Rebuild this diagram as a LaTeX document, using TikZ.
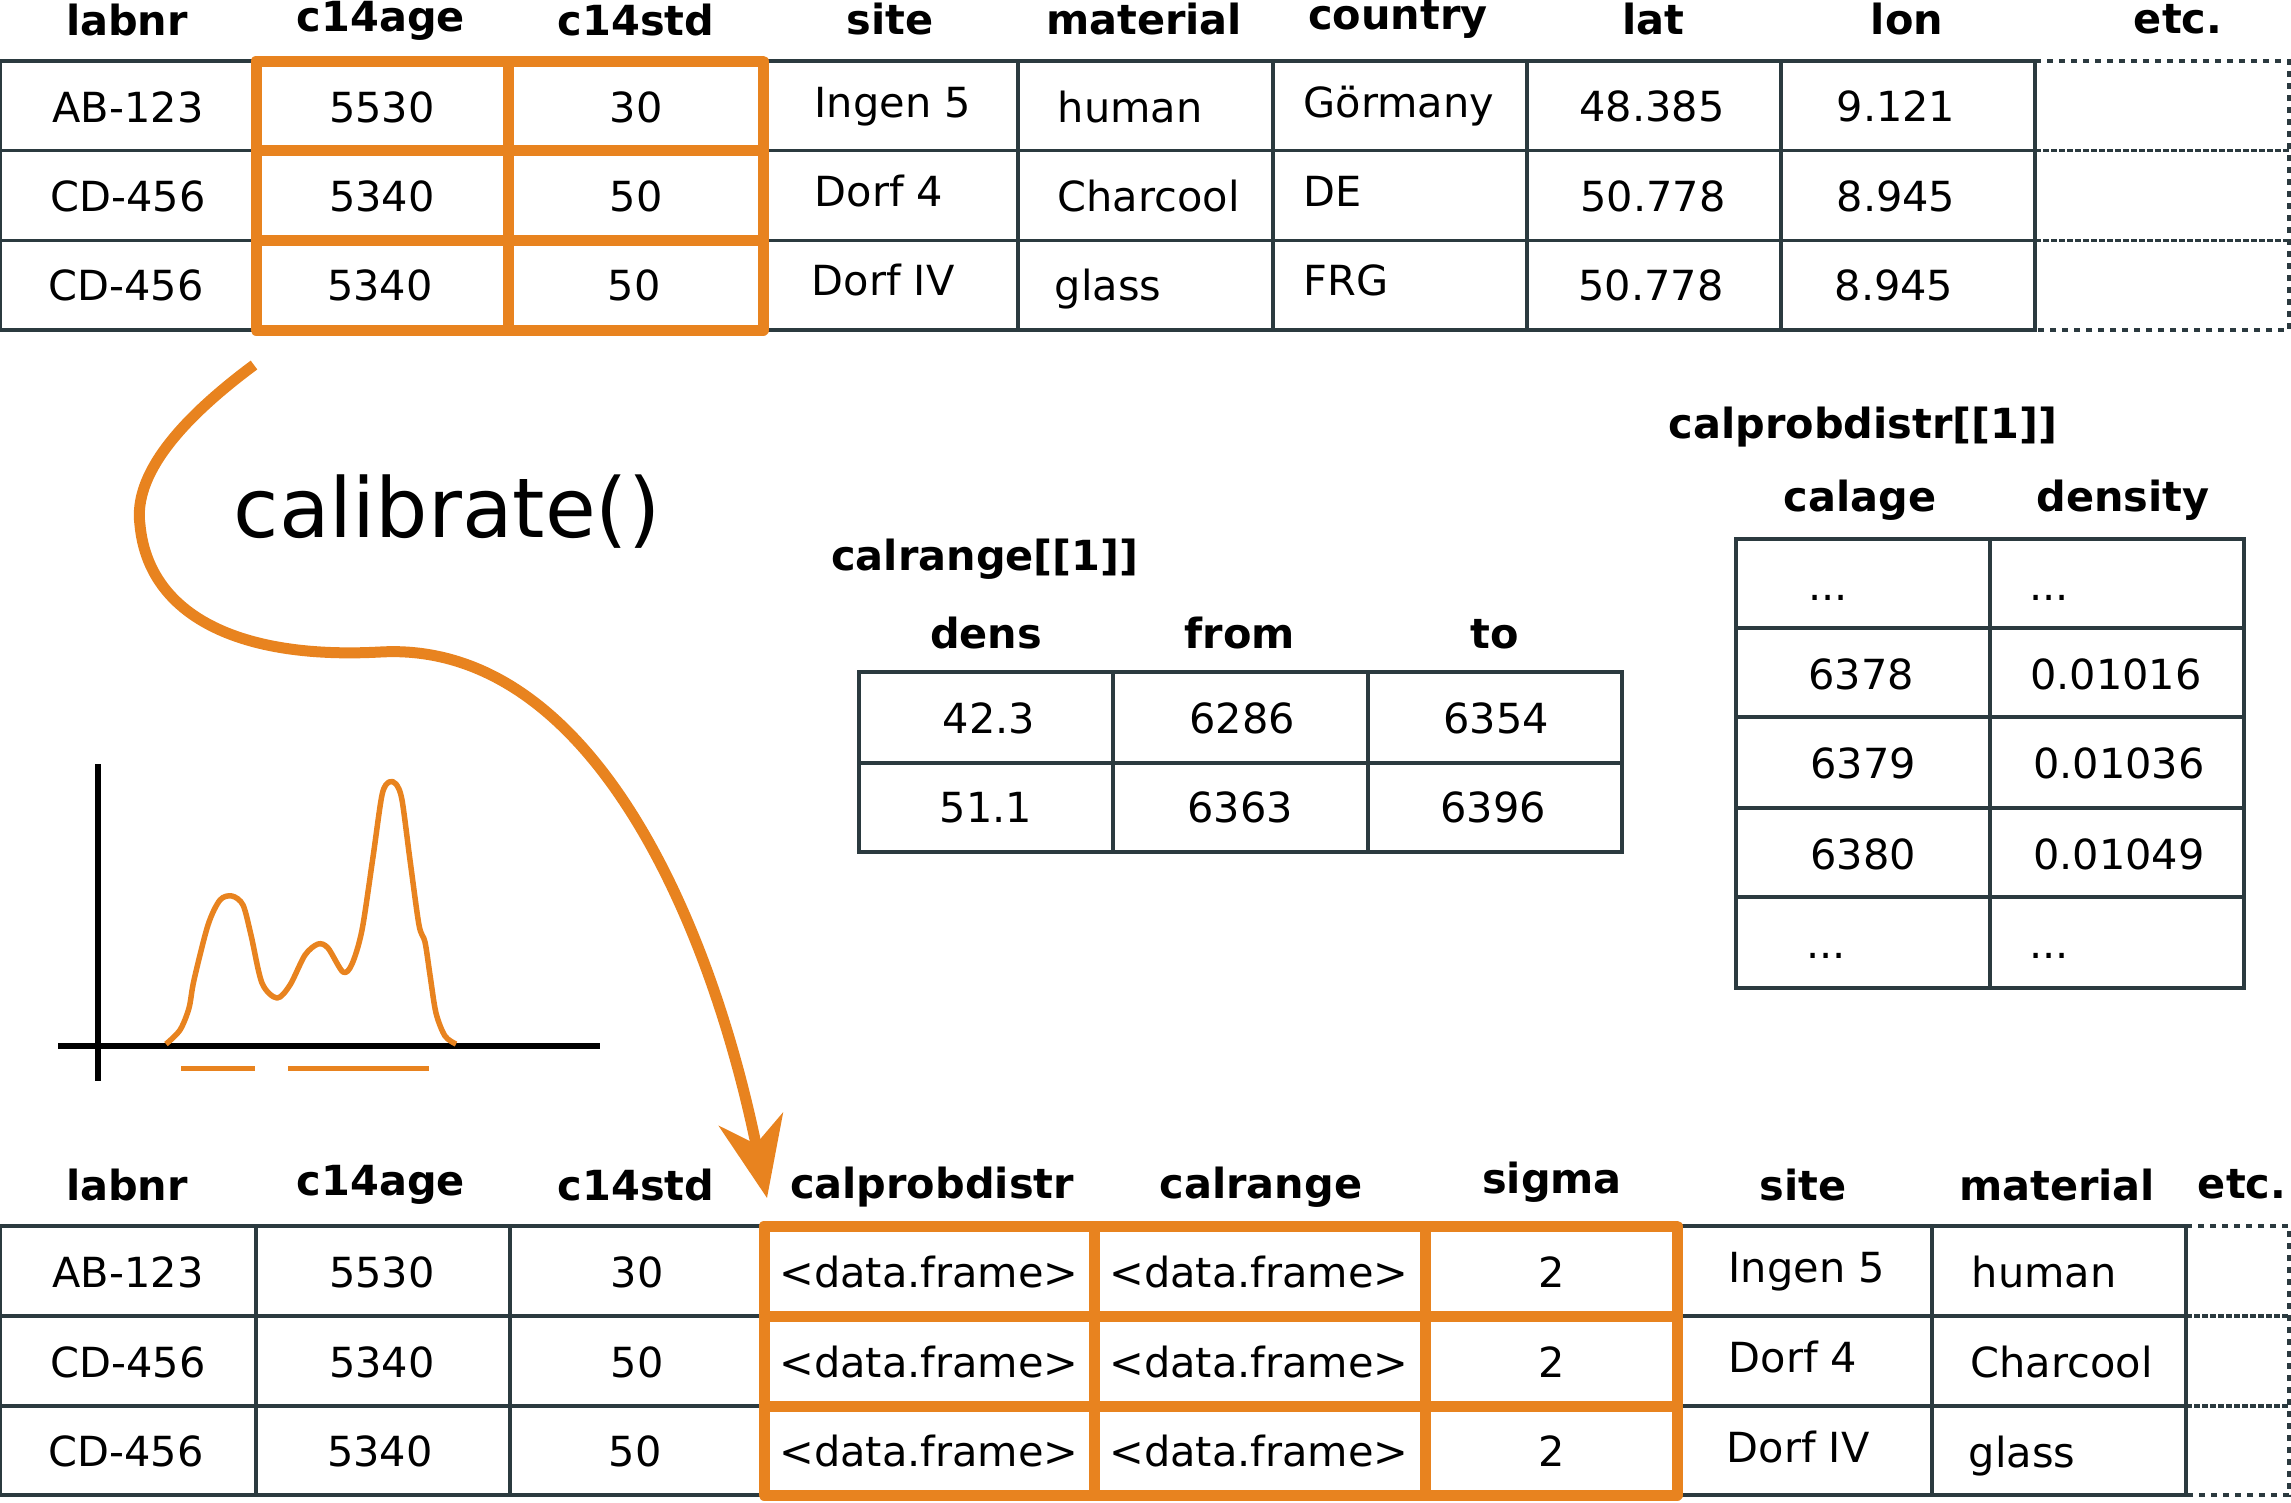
\documentclass[tikz,border=0pt]{standalone}
\usepackage{fontspec}
\setmainfont{DejaVu Sans}
\usepackage{tikz}
\usetikzlibrary{arrows.meta,positioning}

\definecolor{calorange}{HTML}{E8831F}
\definecolor{gridgray}{HTML}{2B3A3F}

\tikzset{
  cell/.style={font=\fontsize{11.8pt}{14pt}\selectfont, anchor=base, inner sep=0pt},
  lcell/.style={cell, anchor=base west},
  head/.style={cell, font=\fontsize{11.8pt}{14pt}\selectfont\bfseries},
  grid/.style={draw=gridgray, line width=0.32mm},
  hilite/.style={draw=calorange, line width=1.1mm, line join=round},
  etcdot/.style={draw=gridgray, line width=0.32mm, dash pattern=on 0.6mm off 0.6mm},
  etcdash/.style={draw=gridgray, line width=0.32mm, dash pattern=on 0.6mm off 0.2mm},
}
\def \more {...}

\begin{document}
\begin{tikzpicture}[x=0.1mm, y=-0.1mm]
\useasboundingbox (0,0) rectangle (2291,1502);

% input table
\def \ytop {61}
\def \ybot {330}
\draw[grid] (0,\ytop) rectangle (2035,\ybot);
\foreach \x in {256,508,763,1018,1273,1527,1781}
  \draw[grid] (\x,\ytop) -- (\x,\ybot);
\foreach \y in {150.7,240.3}
  \draw[grid] (0,\y) -- (2035,\y);
\draw[etcdot] (2035,\ytop) -- (2289,\ytop) -- (2289,\ybot) -- (2035,\ybot);
\foreach \y in {150.7,240.3}
  \draw[etcdash] (2035,\y) -- (2289,\y);

\foreach \txt/\x/\y [count=\i] in {labnr/127/35, c14age/381/31, c14std/636/35,
    site/890/34, material/1144/34, country/1398/29, lat/1653/34, lon/1907/34, etc./2178/33}
  \node[head] (inhead-\i) at (\x,\y) {\txt};

\foreach \txt/\x/\y [count=\i] in {AB-123/128/122, 5530/382/122, 30/636/122, 48.385/1652/121, 9.121/1896/121,
    CD-456/128/211, 5340/382/211, 50/636/211, 50.778/1653/211, 8.945/1896/211,
    CD-456/126/300, 5340/380/300, 50/634/300, 50.778/1651/300, 8.945/1894/300}
  \node[cell] (incell-\i) at (\x,\y) {\txt};

\foreach \txt/\x/\y [count=\i] in {Ingen 5/814/117, human/1057/122, Görmany/1303/117,
    Dorf 4/814/206, Charcool/1057/211, DE/1303/206,
    Dorf IV/811/295, glass/1054/300, FRG/1303/295}
  \node[lcell] (inleft-\i) at (\x,\y) {\txt};

\draw[hilite] (256,\ytop) rectangle (763,\ybot);
\draw[hilite] (508,\ytop) -- (508,\ybot);
\foreach \y in {150.7,240.3}
  \draw[hilite] (256,\y) -- (763,\y);

% output table
\def \ytop {1226}
\def \ybot {1495}
\draw[grid] (0,\ytop) rectangle (2186,\ybot);
\foreach \x in {256,510,764,1094,1425,1677,1932}
  \draw[grid] (\x,\ytop) -- (\x,\ybot);
\foreach \y in {1316,1406}
  \draw[grid] (0,\y) -- (2186,\y);
\draw[etcdot] (2186,\ytop) -- (2289,\ytop) -- (2289,\ybot) -- (2186,\ybot);
\foreach \y in {1316,1406}
  \draw[etcdash] (2186,\y) -- (2289,\y);

\foreach \txt/\x/\y [count=\i] in {labnr/127/1200, c14age/381/1195, c14std/636/1200,
    calprobdistr/932/1198, calrange/1261/1198, sigma/1552/1193, site/1803/1200, material/2057/1200, etc./2242/1198}
  \node[head] (outhead-\i) at (\x,\y) {\txt};

\foreach \txt/\x/\y [count=\i] in {AB-123/128/1287, 5530/382/1287, 30/637/1287,
    <data.frame>/929/1287, <data.frame>/1259/1287, 2/1552/1287,
    CD-456/128/1377, 5340/382/1377, 50/637/1377,
    <data.frame>/929/1377, <data.frame>/1259/1377, 2/1552/1377,
    CD-456/126/1466, 5340/380/1466, 50/635/1466,
    <data.frame>/929/1466, <data.frame>/1259/1466, 2/1552/1466}
  \node[cell] (outcell-\i) at (\x,\y) {\txt};

\foreach \txt/\x/\y [count=\i] in {Ingen 5/1728/1282, human/1971/1287,
    Dorf 4/1728/1372, Charcool/1970/1377,
    Dorf IV/1726/1462, glass/1968/1467}
  \node[lcell] (outleft-\i) at (\x,\y) {\txt};

\draw[hilite] (764,\ytop) rectangle (1677,\ybot);
\foreach \x in {1094,1425}
  \draw[hilite] (\x,\ytop) -- (\x,\ybot);
\foreach \y in {1316,1406}
  \draw[hilite] (764,\y) -- (1677,\y);

% calrange[[1]]
\node[head] (rangetitle) at (985,570) {calrange[[1]]};
\draw[grid] (859,672) rectangle (1622,852);
\foreach \x in {1113,1368}
  \draw[grid] (\x,672) -- (\x,852);
\draw[grid] (859,763) -- (1622,763);
\foreach \txt/\x/\y [count=\i] in {dens/986/648, from/1240/648, to/1495/648}
  \node[head] (rangehead-\i) at (\x,\y) {\txt};
\foreach \txt/\x/\y [count=\i] in {42.3/989/733, 6286/1242/733, 6354/1496/733,
    51.1/986/822, 6363/1240/822, 6396/1493/822}
  \node[cell] (rangecell-\i) at (\x,\y) {\txt};

% calprobdistr[[1]]
\node[head] (probtitle) at (1863,438) {calprobdistr[[1]]};
\draw[grid] (1736,539) rectangle (2244,988);
\draw[grid] (1990,539) -- (1990,988);
\foreach \y in {628,717,808,897}
  \draw[grid] (1736,\y) -- (2244,\y);
\foreach \txt/\x/\y [count=\i] in {calage/1860/511, density/2123/511}
  \node[head] (probhead-\i) at (\x,\y) {\txt};
\foreach \txt/\x/\y [count=\i] in {\more/1828/600, \more/2049/600,
    6378/1861/689, 0.01016/2116/689, 6379/1863/778, 0.01036/2119/778,
    6380/1863/869, 0.01049/2119/869, \more/1826/958, \more/2049/958}
  \node[cell] (probcell-\i) at (\x,\y) {\txt};

% density sketch
\draw[black, line width=0.6mm] (98,764) -- (98,1081);
\draw[black, line width=0.6mm] (58,1046) -- (600,1046);
\draw[calorange, line width=0.55mm, line join=round] plot[smooth, tension=0.5] coordinates {
  (166,1044) (180,1030) (189,1008) (194,980) (208,925) (220,900) (232,896) (243,905)
  (251,935) (262,983) (277,998) (290,985) (305,955) (318,944) (328,948) (343,972)
  (352,964) (362,930) (373,857) (382,795) (389,782) (396,784) (402,800) (410,860)
  (419,925) (425,942) (430,975) (436,1013) (445,1036) (456,1044)};
\draw[calorange, line width=0.5mm] (181,1068) -- (255,1068);
\draw[calorange, line width=0.5mm] (288,1068) -- (429,1068);

% calibrate()
\node[cell, font=\fontsize{23.5pt}{28pt}\selectfont] (calfun) at (447,537) {calibrate()};
\coordinate (calstart) at (254,365);
\coordinate (caltip) at (767,1198);
\draw[calorange, line width=1.1mm, -{Stealth[length=8mm, width=6.5mm, inset=2.5mm]}]
  (calstart) .. controls (180,420) and (133,475) .. (140,525)
  .. controls (148,610) and (230,660) .. (380,652)
  .. controls (590,640) and (710,920) .. (caltip);

\end{tikzpicture}
\end{document}
